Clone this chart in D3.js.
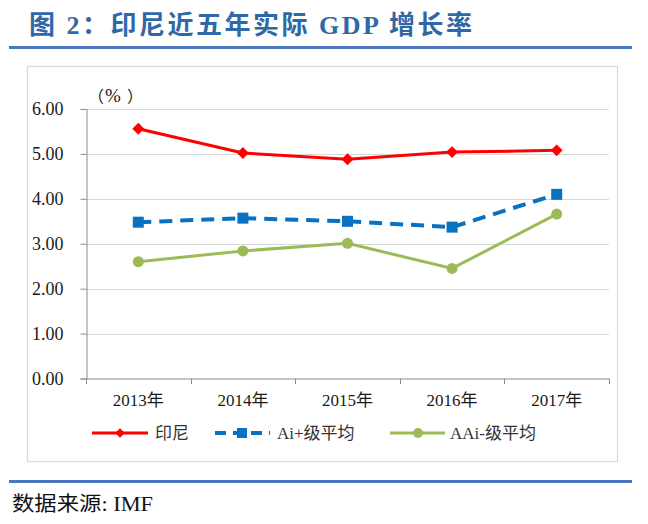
<!DOCTYPE html>
<html>
<head>
<meta charset="utf-8">
<script src="https://cdn.jsdelivr.net/npm/d3@7"></script>
<style>
  html, body { margin: 0; padding: 0; background: #fff; }
  svg { display: block; }
</style>
</head>
<body>
<svg id="chart" width="648" height="524"></svg>
<script>
const categories = ["2013年", "2014年", "2015年", "2016年", "2017年"];
const indonesia = [5.56, 5.02, 4.88, 5.04, 5.08];
const aiPlus = [3.48, 3.57, 3.50, 3.37, 4.10];
const aaiMinus = [2.60, 2.84, 3.01, 2.45, 3.66];
const yTicks = [0, 1, 2, 3, 4, 5, 6];
const seriesNames = ["印尼", "Ai+级平均", "AAi-级平均"];

const svg = d3.select("#chart");
const cjk = "'Liberation Serif', 'Noto Sans CJK SC', serif";

// Title
svg.append("text")
  .attr("x", 29).attr("y", 34)
  .attr("font-family", cjk)
  .attr("font-weight", "bold")
  .attr("font-size", 26)
  .attr("fill", "#2f68a6")
  .attr("textLength", 443)
  .attr("lengthAdjust", "spacing")
  .text("图 2：印尼近五年实际 GDP 增长率");

svg.append("line")
  .attr("x1", 9).attr("x2", 632).attr("y1", 47.5).attr("y2", 47.5)
  .attr("stroke", "#4a76c0").attr("stroke-width", 3.2);

// Frame
svg.append("rect")
  .attr("x", 27.5).attr("y", 66.5).attr("width", 590).attr("height", 395)
  .attr("fill", "none").attr("stroke", "#d9d9d9").attr("stroke-width", 1.2);

const x = d3.scaleBand().domain(categories).range([86, 609]);
const y = d3.scaleLinear().domain([0, 6]).range([378.5, 109]);
const cx = d => x(d) + x.bandwidth() / 2;

// Gridlines
svg.append("g").selectAll("line")
  .data(yTicks.filter(t => t > 0)).join("line")
  .attr("x1", 86).attr("x2", 609)
  .attr("y1", d => Math.round(y(d)) + 0.5).attr("y2", d => Math.round(y(d)) + 0.5)
  .attr("stroke", "#d9d9d9").attr("stroke-width", 1);

// Y axis
const yAxis = svg.append("g").attr("transform", "translate(86.5,0)")
  .call(d3.axisLeft(y).tickValues(yTicks).tickSize(6).tickPadding(17).tickFormat(d3.format(".2f")));
yAxis.select(".domain").attr("stroke", "#8c8c8c");
yAxis.selectAll(".tick line").attr("stroke", "#8c8c8c");
yAxis.selectAll(".tick text")
  .attr("font-family", "'Liberation Serif', serif").attr("font-size", 18).attr("fill", "#1a1a1a");

// X axis
const xAxis = svg.append("g").attr("transform", "translate(0,378.5)")
  .call(d3.axisBottom(x).tickSize(0).tickPadding(15));
xAxis.select(".domain").attr("stroke", "#8c8c8c");
xAxis.selectAll(".tick text")
  .attr("font-family", cjk).attr("font-size", 17).attr("fill", "#1a1a1a");
const bounds = categories.map(c => x(c)).concat([x.range()[1]]);
svg.append("g").selectAll("line").data(bounds).join("line")
  .attr("x1", d => Math.round(d) + 0.5).attr("x2", d => Math.round(d) + 0.5)
  .attr("y1", 378.5).attr("y2", 384)
  .attr("stroke", "#8c8c8c");

// unit label （%）
const unit = svg.append("text")
  .attr("y", 102)
  .attr("font-family", "'Noto Sans CJK SC', sans-serif").attr("font-size", 16).attr("fill", "#1a1a1a");
unit.append("tspan").attr("x", 88).text("（");
unit.append("tspan").attr("x", 105).attr("font-family", "'Liberation Serif', serif").attr("font-size", 19).text("%");
unit.append("tspan").attr("x", 127).text("）");

const line = d3.line().x((d, i) => cx(categories[i])).y(d => y(d));

// Green
svg.append("path").datum(aaiMinus).attr("d", line)
  .attr("fill", "none").attr("stroke", "#9bbb59").attr("stroke-width", 3);
svg.append("g").selectAll("circle").data(aaiMinus).join("circle")
  .attr("cx", (d, i) => cx(categories[i])).attr("cy", d => y(d)).attr("r", 5.5)
  .attr("fill", "#9bbb59");

// Blue dashed
svg.append("path").datum(aiPlus).attr("d", line)
  .attr("fill", "none").attr("stroke", "#0a70c0").attr("stroke-width", 4)
  .attr("stroke-dasharray", "13,8");
svg.append("g").selectAll("rect").data(aiPlus).join("rect")
  .attr("x", (d, i) => cx(categories[i]) - 5.5).attr("y", d => y(d) - 5.5)
  .attr("width", 11).attr("height", 11)
  .attr("fill", "#0a70c0");

// Red
svg.append("path").datum(indonesia).attr("d", line)
  .attr("fill", "none").attr("stroke", "#ff0000").attr("stroke-width", 3);
const diamond = d3.symbol().type(d3.symbolDiamond2).size(90);
svg.append("g").selectAll("path").data(indonesia).join("path")
  .attr("d", diamond)
  .attr("transform", (d, i) => `translate(${cx(categories[i])},${y(d)})`)
  .attr("fill", "#ff0000");

// Legend
const ly = 433;
const lg = svg.append("g");
lg.append("line").attr("x1", 92).attr("x2", 148).attr("y1", ly).attr("y2", ly)
  .attr("stroke", "#ff0000").attr("stroke-width", 3);
lg.append("path").attr("d", d3.symbol().type(d3.symbolDiamond2).size(60))
  .attr("transform", `translate(120,${ly})`).attr("fill", "#ff0000");
lg.append("line").attr("x1", 215).attr("x2", 270).attr("y1", ly).attr("y2", ly)
  .attr("stroke", "#0a70c0").attr("stroke-width", 4).attr("stroke-dasharray", "11,7");
lg.append("rect").attr("x", 237).attr("y", ly - 5).attr("width", 10).attr("height", 10)
  .attr("fill", "#0a70c0");
lg.append("line").attr("x1", 390).attr("x2", 445).attr("y1", ly).attr("y2", ly)
  .attr("stroke", "#9bbb59").attr("stroke-width", 3);
lg.append("circle").attr("cx", 418).attr("cy", ly).attr("r", 5).attr("fill", "#9bbb59");

const legX = [155, 277, 450];
lg.selectAll("text.leg").data(seriesNames).join("text")
  .attr("class", "leg")
  .attr("x", (d, i) => legX[i]).attr("y", ly + 6)
  .attr("font-family", cjk).attr("font-size", 17).attr("fill", "#333")
  .text(d => d);

// bottom line + source
svg.append("line")
  .attr("x1", 9).attr("x2", 632).attr("y1", 481.5).attr("y2", 481.5)
  .attr("stroke", "#4a76c0").attr("stroke-width", 3);
svg.append("text")
  .attr("x", 12).attr("y", 511)
  .attr("font-family", cjk).attr("font-size", 20).attr("fill", "#111")
  .attr("textLength", 141).attr("lengthAdjust", "spacingAndGlyphs")
  .text("数据来源: IMF");
</script>
</body>
</html>
